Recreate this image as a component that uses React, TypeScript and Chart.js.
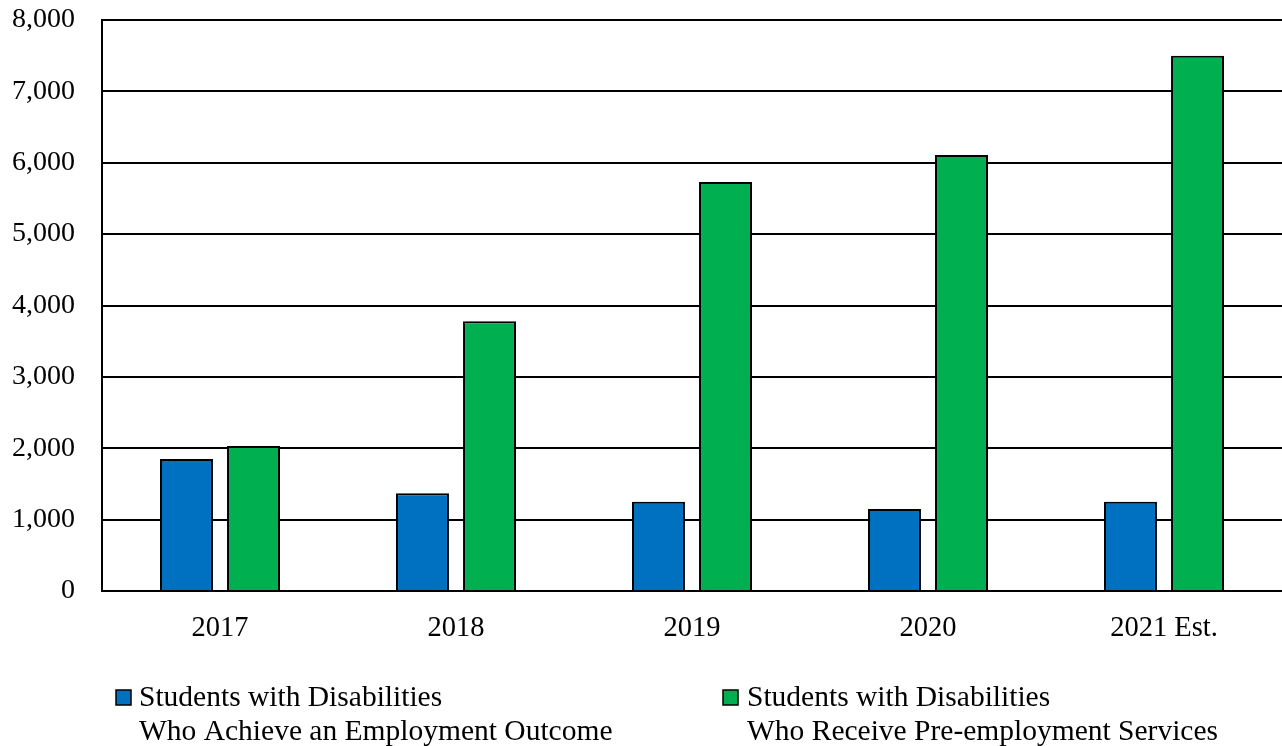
import React, { useEffect, useRef } from "react";
import { Chart, registerables } from "chart.js";

Chart.register(...registerables);

const categories = ["2017", "2018", "2019", "2020", "2021 Est."];
const achieveOutcome = [1850, 1370, 1250, 1150, 1250];
const receiveServices = [2030, 3780, 5730, 6110, 7500];
const seriesLabels = [
  ["Students with Disabilities", "Who Achieve an Employment Outcome"],
  ["Students with Disabilities", "Who Receive Pre-employment Services"],
];
const seriesColors = ["#0070C0", "#00B050"];

const FONT = '"Liberation Serif", "Times New Roman", serif';

const legendPlugin = {
  id: "customLegend",
  afterDraw(chart: any) {
    const ctx = chart.ctx;
    const items = [
      { x: 116, textX: 139, color: seriesColors[0], lines: seriesLabels[0] },
      { x: 723, textX: 747, color: seriesColors[1], lines: seriesLabels[1] },
    ];
    ctx.save();
    ctx.font = `29.5px ${FONT}`;
    ctx.textBaseline = "alphabetic";
    ctx.textAlign = "left";
    items.forEach((it) => {
      ctx.fillStyle = it.color;
      ctx.fillRect(it.x, 690, 15, 15);
      ctx.strokeStyle = "#000";
      ctx.lineWidth = 1.5;
      ctx.strokeRect(it.x, 690, 15, 15);
      ctx.fillStyle = "#000";
      ctx.fillText(it.lines[0], it.textX, 706);
      ctx.fillText(it.lines[1], it.textX, 740);
    });
    ctx.restore();
  },
};

export default function App() {
  const ref = useRef<HTMLCanvasElement>(null);
  useEffect(() => {
    if (!ref.current) return;
    const chart = new Chart(ref.current, {
      type: "bar",
      data: {
        labels: categories,
        datasets: [
          {
            label: seriesLabels[0].join(" "),
            data: achieveOutcome,
            backgroundColor: seriesColors[0],
            borderColor: "#000",
            borderWidth: 2,
          },
          {
            label: seriesLabels[1].join(" "),
            data: receiveServices,
            backgroundColor: seriesColors[1],
            borderColor: "#000",
            borderWidth: 2,
          },
        ],
      },
      options: {
        animation: false,
        responsive: false,
        maintainAspectRatio: false,
        layout: { padding: { top: 0, left: 0, right: 0, bottom: 0 } },
        datasets: {
          bar: { categoryPercentage: 0.568, barPercentage: 0.79 },
        },
        plugins: {
          legend: { display: false },
          tooltip: { enabled: false },
        },
        scales: {
          x: {
            grid: { display: false, drawTicks: false },
            border: { display: true, color: "#000", width: 2 },
            ticks: {
              color: "#000",
              font: { family: FONT, size: 28.5 },
              padding: 20,
              maxRotation: 0,
            },
            afterFit(scale: any) {
              scale.height = 155;
            },
          },
          y: {
            min: 0,
            max: 8000,
            grid: { color: "#000", lineWidth: 2, drawTicks: false },
            border: { display: true, color: "#000", width: 2 },
            ticks: {
              stepSize: 1000,
              color: "#000",
              font: { family: FONT, size: 28 },
              padding: 27,
              callback: (v: any) => Number(v).toLocaleString("en-US"),
            },
            afterFit(scale: any) {
              scale.width = 102;
              scale.paddingTop = 20;
            },
          },
        },
      },
      plugins: [legendPlugin],
    });
    return () => chart.destroy();
  }, []);
  return (
    <div style={{ position: "fixed", left: 0, top: 0, width: 1282, height: 746, background: "#fff" }}>
      <canvas ref={ref} width={1282} height={746} style={{ display: "block", width: 1282, height: 746 }} />
    </div>
  );
}
